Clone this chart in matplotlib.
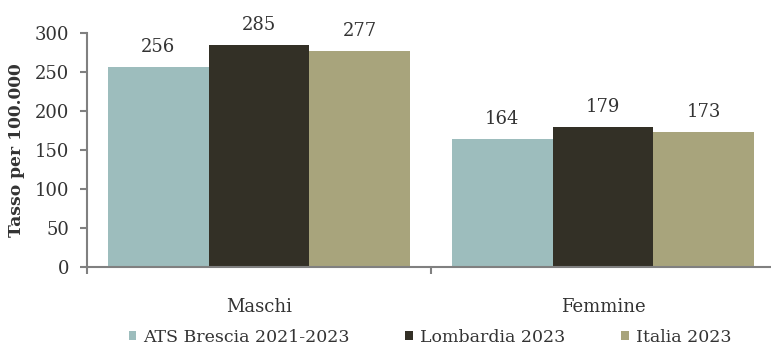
import numpy as np
import matplotlib.pyplot as plt

# tassi per 100.000 abitanti
categorie = ['Maschi', 'Femmine']
serie = ['ATS Brescia 2021-2023', 'Lombardia 2023', 'Italia 2023']
ats_brescia = [256, 164]
lombardia = [285, 179]
italia = [277, 173]
colori = ['#9dbdbd', '#333026', '#a8a47c']

plt.rcParams['font.family'] = ['DejaVu Serif']

fig = plt.figure(figsize=(7.71, 3.45), dpi=100)
ax = fig.add_axes([87 / 771, 78 / 345, 688 / 771, 234 / 345])

x = np.arange(len(categorie))
w = 0.293
for i, (valori, nome) in enumerate(zip([ats_brescia, lombardia, italia], serie)):
    barre = ax.bar(x + (i - 1) * w, valori, w, color=colori[i], label=nome)
    for b, v in zip(barre, valori):
        ax.annotate(str(v), (b.get_x() + b.get_width() / 2, v),
                    xytext=(0, 8), textcoords='offset points',
                    ha='center', va='bottom', fontsize=13, color='#333333')

ax.set_xlim(-0.5, 1.5)
ax.set_ylim(0, 300)
ax.set_yticks(range(0, 301, 50))
ax.set_xticks([-0.5, 0.5, 1.5])
ax.set_xticklabels([])
ax.set_xticks(x, minor=True)
ax.set_xticklabels(categorie, minor=True)
ax.tick_params(axis='x', which='minor', length=0, pad=22, labelsize=13, colors='#333333')
ax.tick_params(axis='x', which='major', length=5, color='#808080', width=1.5)
ax.tick_params(axis='y', length=5, color='#808080', width=1.5, labelsize=13,
               labelcolor='#333333', pad=8)

for s in ['top', 'right']:
    ax.spines[s].set_visible(False)
for s in ['left', 'bottom']:
    ax.spines[s].set_color('#808080')
    ax.spines[s].set_linewidth(1.5)

ax.set_ylabel('Tasso per 100.000', fontsize=12.3, fontweight='bold', color='#333333')
ax.yaxis.set_label_coords(-62 / 688, 0.5)

fig.legend(loc='center', bbox_to_anchor=(430 / 771, 8 / 345), ncol=3, frameon=False,
           fontsize=12.5, handlelength=0.45, handleheight=0.45, handletextpad=0.4,
           columnspacing=3.2, labelcolor='#333333')

fig.savefig('out.png', dpi=100)
